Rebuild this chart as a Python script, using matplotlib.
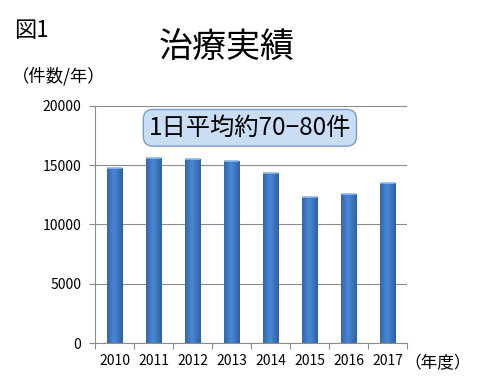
import matplotlib.pyplot as plt
import numpy as np
from matplotlib.colors import LinearSegmentedColormap

plt.rcParams['font.family'] = ['Noto Sans CJK JP', 'DejaVu Sans']

######################################################################

# DATA

years = ['2010', '2011', '2012', '2013', '2014', '2015', '2016', '2017']
cases = [14750, 15580, 15550, 15330, 14320, 12290, 12550, 13500]
y_ticks = [0, 5000, 10000, 15000, 20000]

######################################################################

fig = plt.figure(figsize=(4.8, 3.85), dpi=100)
ax = fig.add_axes([0.198, 0.109, 0.65, 0.616])

x = np.arange(len(years))
bars = ax.bar(x, cases, width=0.4, color='#3f7bc8', edgecolor='#2a5c9c',
              linewidth=0.6, zorder=2)

# horizontal shading on each bar, like the office chart style
grad = np.linspace(0, 1, 64)
grad = 1 - np.abs(grad - 0.45) * 1.6
grad = grad.reshape(1, -1)
cmap = LinearSegmentedColormap.from_list('bar', ['#2a5a9a', '#4a88d6'])
for b in bars:
    x0, w, h = b.get_x(), b.get_width(), b.get_height()
    im = ax.imshow(grad, cmap=cmap, extent=(x0, x0 + w, 0, h), aspect='auto',
                   zorder=2.5, vmin=0, vmax=1)
    im.set_clip_path(b)
    # light cap at top
    ax.plot([x0, x0 + w], [h, h], color='#8fb8ea', lw=1.2, zorder=3,
            solid_capstyle='butt')

ax.set_xlim(-0.5, len(years) - 0.5)
ax.set_ylim(0, 20000)
ax.set_yticks(y_ticks)
ax.set_yticklabels([str(v) for v in y_ticks], fontsize=10)
ax.yaxis.grid(True, color='#8c8c8c', lw=0.8, zorder=0)
ax.set_axisbelow(True)

ax.set_xticks(np.arange(-0.5, len(years), 1.0))
ax.set_xticklabels([])
ax.set_xticks(x, minor=True)
ax.set_xticklabels(years, minor=True, fontsize=10)
ax.tick_params(axis='x', which='minor', length=0, pad=8)
ax.tick_params(axis='x', which='major', length=4, color='#8c8c8c')
ax.tick_params(axis='y', length=4, color='#8c8c8c', pad=6)

for s in ['top', 'right']:
    ax.spines[s].set_visible(False)
for s in ['left', 'bottom']:
    ax.spines[s].set_color('#8c8c8c')
    ax.spines[s].set_linewidth(0.8)

# texts
fig.text(0.03, 0.92, '図1', fontsize=16, va='center', ha='left')
fig.text(0.473, 0.875, '治療実績', fontsize=24.5, va='center', ha='center')
fig.text(0.025, 0.803, '（件数/年）', fontsize=12.5, va='center', ha='left')
fig.text(0.842, 0.055, '（年度）', fontsize=12, va='center', ha='left')

ax.text(3.47, 18150, '1日平均約70−80件', fontsize=17.5, ha='center',
        va='center', zorder=5,
        bbox=dict(boxstyle='round,pad=0.22,rounding_size=0.4',
                  facecolor='#c9ddf4', edgecolor='#7b9ccc', lw=1.0))

plt.savefig('out.png', dpi=100)
